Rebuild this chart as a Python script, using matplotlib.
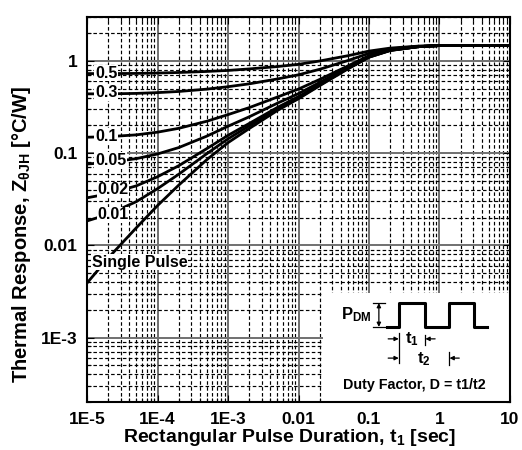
import matplotlib
matplotlib.use('Agg')
import matplotlib.pyplot as plt
from matplotlib.patches import Rectangle
from matplotlib.ticker import LogLocator, FixedLocator, FixedFormatter, NullFormatter

plt.rcParams['font.family'] = ['Liberation Sans', 'DejaVu Sans']
plt.rcParams['font.weight'] = 'bold'
plt.rcParams['mathtext.fontset'] = 'custom'
plt.rcParams['mathtext.rm'] = 'Liberation Sans:bold'
plt.rcParams['mathtext.bf'] = 'Liberation Sans:bold'
plt.rcParams['mathtext.it'] = 'Liberation Sans:bold'

# pulse duration [sec]
t = [1e-5, 2e-5, 5e-5, 1e-4, 2e-4, 5e-4, 1e-3, 2e-3, 5e-3, 1e-2,
     2e-2, 5e-2, 0.1, 0.2, 0.5, 1, 2, 5, 10]

# thermal response, one list per duty factor
z_single = [0.0039, 0.0073, 0.0155, 0.027, 0.045, 0.085, 0.13, 0.185, 0.29, 0.39,
            0.54, 0.82, 1.10, 1.30, 1.43, 1.47, 1.47, 1.47, 1.47]
z_001 = [0.0184, 0.0217, 0.0298, 0.0412, 0.0591, 0.0987, 0.143, 0.198, 0.302, 0.396,
         0.549, 0.826, 1.10, 1.30, 1.43, 1.47, 1.47, 1.47, 1.47]
z_002 = [0.0328, 0.0362, 0.0442, 0.0555, 0.0731, 0.112, 0.156, 0.210, 0.313, 0.411,
         0.558, 0.833, 1.11, 1.31, 1.43, 1.47, 1.47, 1.47, 1.47]
z_005 = [0.0762, 0.0795, 0.0872, 0.098, 0.115, 0.153, 0.196, 0.248, 0.348, 0.443,
         0.586, 0.852, 1.12, 1.31, 1.43, 1.47, 1.47, 1.47, 1.47]
z_01 = [0.149, 0.151, 0.158, 0.169, 0.186, 0.222, 0.262, 0.312, 0.406, 0.496,
        0.631, 0.883, 1.14, 1.32, 1.43, 1.47, 1.47, 1.47, 1.47]
z_03 = [0.44, 0.44, 0.445, 0.454, 0.467, 0.495, 0.526, 0.565, 0.638, 0.708,
        0.813, 1.01, 1.21, 1.35, 1.44, 1.47, 1.47, 1.47, 1.47]
z_05 = [0.73, 0.73, 0.733, 0.74, 0.75, 0.77, 0.79, 0.82, 0.87, 0.92,
        1.0, 1.14, 1.28, 1.38, 1.45, 1.47, 1.47, 1.47, 1.47]

curves = [z_05, z_03, z_01, z_005, z_002, z_001, z_single]

# curve labels: text, x, y (data coords)
label_txt = ['0.5', '0.3', '0.1', '0.05', '0.02', '0.01', 'Single Pulse']
label_x = [1.3e-5, 1.3e-5, 1.3e-5, 1.3e-5, 1.4e-5, 1.4e-5, 1.18e-5]
label_y = [0.74, 0.45, 0.152, 0.083, 0.040, 0.0214, 0.0066]

xticks = [1e-5, 1e-4, 1e-3, 1e-2, 0.1, 1, 10]
xtick_labels = ['1E-5', '1E-4', '1E-3', '0.01', '0.1', '1', '10']
yticks = [1e-3, 1e-2, 0.1, 1]
ytick_labels = ['1E-3', '0.01', '0.1', '1']

fig = plt.figure(figsize=(5.22, 4.5), dpi=100)
ax = fig.add_axes([87 / 522, 1 - 402 / 450, 423 / 522, 385 / 450])
ax.set_xscale('log')
ax.set_yscale('log')
ax.set_xlim(1e-5, 10)
ax.set_ylim(2e-4, 3)
ax.set_axisbelow(True)

ax.xaxis.set_major_locator(FixedLocator(xticks))
ax.xaxis.set_major_formatter(FixedFormatter(xtick_labels))
ax.yaxis.set_major_locator(FixedLocator(yticks))
ax.yaxis.set_major_formatter(FixedFormatter(ytick_labels))
ax.xaxis.set_minor_locator(LogLocator(base=10, subs=range(2, 10), numticks=20))
ax.yaxis.set_minor_locator(LogLocator(base=10, subs=range(2, 10), numticks=20))
ax.xaxis.set_minor_formatter(NullFormatter())
ax.yaxis.set_minor_formatter(NullFormatter())

ax.grid(True, which='major', color='#707070', linewidth=1.4, linestyle='-')
ax.grid(True, which='minor', color='black', linewidth=0.85, linestyle=(0, (3, 2)))

ax.tick_params(which='both', direction='in', top=True, right=True, width=0.8)
ax.tick_params(which='major', length=5, labelsize=12.5)
ax.tick_params(which='minor', length=3)
ax.tick_params(axis='x', pad=7)
ax.tick_params(axis='y', pad=7)
for s in ax.spines.values():
    s.set_linewidth(1.5)

# white box behind the duty factor sketch
ax.add_patch(Rectangle((0.558, 0), 0.442, 0.283, transform=ax.transAxes,
                       facecolor='white', edgecolor='none', zorder=1))

for z in curves:
    ax.plot(t, z, color='black', linewidth=2.0, zorder=2)

for txt, lx, ly in zip(label_txt, label_x, label_y):
    ax.text(lx, ly, txt, fontsize=11.5, fontweight='bold', ha='left', va='center',
            zorder=3, bbox=dict(facecolor='white', edgecolor='none', pad=0.5))

ax.set_xlabel('Rectangular Pulse Duration, t$_\\mathbf{1}$ [sec]', fontsize=14,
              fontweight='bold')
ax.set_ylabel('Thermal Response, Z$_{\\mathbf{\u03b8JH}}$ [°C/W]', fontsize=14.5,
              fontweight='bold')
ax.xaxis.set_label_coords(0.48, -0.066)
ax.yaxis.set_label_coords(-0.127, 0.436)

# --- duty factor sketch (axes fraction coords) ---
tr = ax.transAxes
wx = [0.709, 0.738, 0.738, 0.799, 0.799, 0.856, 0.856, 0.915, 0.915, 0.946]
wy = [0.195, 0.195, 0.257, 0.257, 0.195, 0.195, 0.257, 0.257, 0.195, 0.195]
ax.plot(wx, wy, color='black', linewidth=2.2, transform=tr, zorder=3)

ax.annotate('', xy=(0.690, 0.257), xytext=(0.690, 0.195), xycoords=tr,
            arrowprops=dict(arrowstyle='<|-|>', lw=0.9, color='black',
                            mutation_scale=6, shrinkA=0, shrinkB=0), zorder=3)
ax.plot([0.676, 0.704], [0.257, 0.257], color='black', lw=0.9, transform=tr, zorder=3)
ax.plot([0.676, 0.704], [0.195, 0.195], color='black', lw=0.9, transform=tr, zorder=3)
ax.text(0.672, 0.228, '$\\mathbf{P}_{\\mathbf{DM}}$', transform=tr, fontsize=12,
        ha='right', va='center', zorder=3)

# t1 / t2 dimension marks
ax.plot([0.738, 0.738], [0.101, 0.179], color='black', lw=0.9, transform=tr, zorder=3)
ax.plot([0.799, 0.799], [0.148, 0.174], color='black', lw=0.9, transform=tr, zorder=3)
ax.plot([0.856, 0.856], [0.096, 0.130], color='black', lw=0.9, transform=tr, zorder=3)
for tail, tip, yy in [(0.712, 0.737, 0.164), (0.823, 0.800, 0.164),
                      (0.712, 0.737, 0.114), (0.880, 0.857, 0.114)]:
    ax.annotate('', xy=(tip, yy), xytext=(tail, yy), xycoords=tr,
                arrowprops=dict(arrowstyle='-|>', lw=0.9, color='black',
                                mutation_scale=6, shrinkA=0, shrinkB=0), zorder=3)
ax.text(0.768, 0.164, 't$_\\mathbf{1}$', transform=tr, fontsize=12,
        ha='center', va='center', zorder=3)
ax.text(0.797, 0.110, 't$_\\mathbf{2}$', transform=tr, fontsize=12,
        ha='center', va='center', zorder=3)
ax.text(0.775, 0.044, 'Duty Factor, D = t1/t2', transform=tr, fontsize=10.3,
        ha='center', va='center', zorder=3)

fig.savefig('out.png', dpi=100)
